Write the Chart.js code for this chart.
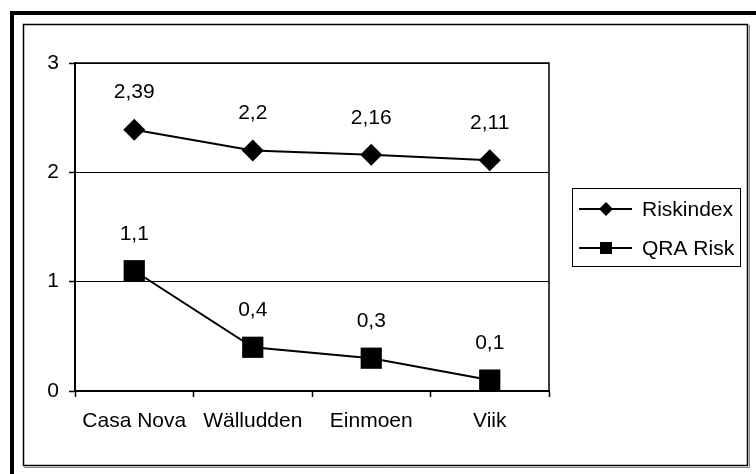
<!DOCTYPE html>
<html>
<head>
<meta charset="utf-8">
<script src="https://cdn.jsdelivr.net/npm/chart.js@4.4.0/dist/chart.umd.min.js"></script>
<style>
  html, body { margin: 0; padding: 0; background: #fff; }
  #wrap { width: 756px; height: 474px; position: relative; }
</style>
</head>
<body>
<div id="wrap"><canvas id="chart" width="756" height="474"></canvas></div>
<script>
// chart data
var categories = ['Casa Nova', 'Wälludden', 'Einmoen', 'Viik'];
var riskIndex = [2.39, 2.2, 2.16, 2.11];
var qraRisk = [1.1, 0.4, 0.3, 0.1];
var seriesNames = ['Riskindex', 'QRA Risk'];
var yTicks = [0, 1, 2, 3];

var FONT = '"Liberation Sans", Arial, sans-serif';

function fmt(v) {
  return String(v).replace('.', ',');
}

// frames around the whole picture + border of the plot area
var framePlugin = {
  id: 'frame',
  beforeDraw: function (chart) {
    var ctx = chart.ctx;
    ctx.save();
    ctx.fillStyle = '#000';
    ctx.fillRect(10, 11, 746, 4);
    ctx.fillRect(10, 11, 4, 463);
    ctx.strokeStyle = '#000';
    ctx.lineWidth = 1.5;
    ctx.strokeRect(23.5, 24.5, 724, 441);
    ctx.strokeStyle = '#888';
    ctx.lineWidth = 1;
    ctx.beginPath();
    ctx.moveTo(749.5, 25);
    ctx.lineTo(749.5, 467.5);
    ctx.lineTo(24, 467.5);
    ctx.stroke();
    ctx.restore();
  },
  afterDatasetsDraw: function (chart) {
    var a = chart.chartArea;
    var ctx = chart.ctx;
    ctx.save();
    ctx.strokeStyle = '#000';
    ctx.lineWidth = 1.5;
    ctx.beginPath();
    ctx.moveTo(a.left, a.top);
    ctx.lineTo(a.right, a.top);
    ctx.lineTo(a.right, a.bottom);
    ctx.stroke();
    ctx.restore();
  }
};

// value labels above each point
var valueLabels = {
  id: 'valueLabels',
  afterDatasetsDraw: function (chart) {
    var ctx = chart.ctx;
    ctx.save();
    ctx.font = '21px ' + FONT;
    ctx.fillStyle = '#000';
    ctx.textAlign = 'center';
    ctx.textBaseline = 'middle';
    chart.data.datasets.forEach(function (ds, i) {
      chart.getDatasetMeta(i).data.forEach(function (pt, j) {
        ctx.fillText(fmt(ds.data[j]), pt.x, pt.y - 37);
      });
    });
    ctx.restore();
  }
};

// boxed legend to the right of the plot
var boxLegend = {
  id: 'boxLegend',
  afterDraw: function (chart) {
    var ctx = chart.ctx;
    var x0 = 572, y0 = 188, w = 168, h = 78;
    ctx.save();
    ctx.strokeStyle = '#000';
    ctx.lineWidth = 1;
    ctx.strokeRect(x0 + 0.5, y0 + 0.5, w, h);
    chart.data.datasets.forEach(function (ds, i) {
      var y = 209 + i * 39;
      ctx.strokeStyle = '#000';
      ctx.lineWidth = 2;
      ctx.beginPath();
      ctx.moveTo(579, y);
      ctx.lineTo(632, y);
      ctx.stroke();
      ctx.fillStyle = '#000';
      ctx.beginPath();
      if (ds.pointStyle === 'rectRot') {
        ctx.moveTo(606 - 7, y);
        ctx.lineTo(606, y - 7);
        ctx.lineTo(606 + 7, y);
        ctx.lineTo(606, y + 7);
        ctx.closePath();
      } else {
        ctx.rect(600, y - 6, 12, 12);
      }
      ctx.fill();
      ctx.font = '21px ' + FONT;
      ctx.textAlign = 'left';
      ctx.textBaseline = 'middle';
      ctx.fillText(ds.label, 642, y + 1);
    });
    ctx.restore();
  }
};

new Chart(document.getElementById('chart'), {
  type: 'line',
  data: {
    labels: categories,
    datasets: [
      {
        label: seriesNames[0],
        data: riskIndex,
        borderColor: '#000',
        backgroundColor: '#000',
        borderWidth: 2,
        pointStyle: 'rectRot',
        pointRadius: 11,
        pointBorderWidth: 0,
        tension: 0
      },
      {
        label: seriesNames[1],
        data: qraRisk,
        borderColor: '#000',
        backgroundColor: '#000',
        borderWidth: 2,
        pointStyle: 'rect',
        pointRadius: 15,
        pointBorderWidth: 0,
        tension: 0
      }
    ]
  },
  options: {
    responsive: false,
    animation: false,
    layout: { padding: { left: 0, top: 63, right: 207, bottom: 0 } },
    plugins: {
      legend: { display: false },
      tooltip: { enabled: false }
    },
    scales: {
      x: {
        offset: true,
        afterFit: function (s) { s.height = 83; },
        grid: {
          offset: true,
          drawOnChartArea: false,
          drawTicks: true,
          tickLength: 6,
          tickColor: '#000',
          tickWidth: 1.5
        },
        border: { display: true, color: '#000', width: 2 },
        ticks: {
          color: '#000',
          font: { family: FONT, size: 21 },
          padding: 12,
          maxRotation: 0,
          autoSkip: false
        }
      },
      y: {
        min: yTicks[0],
        max: yTicks[yTicks.length - 1],
        afterFit: function (s) { s.width = 75; },
        afterBuildTicks: function (s) {
          s.ticks = yTicks.map(function (v) { return { value: v }; });
        },
        grid: {
          color: '#000',
          lineWidth: 1,
          drawTicks: true,
          tickLength: 6,
          tickColor: '#000',
          tickWidth: 1.5
        },
        border: { display: true, color: '#000', width: 2 },
        ticks: {
          color: '#000',
          font: { family: FONT, size: 21 },
          padding: 10,
          callback: function (v) { return fmt(v); }
        }
      }
    }
  },
  plugins: [framePlugin, valueLabels, boxLegend]
});
</script>
</body>
</html>
